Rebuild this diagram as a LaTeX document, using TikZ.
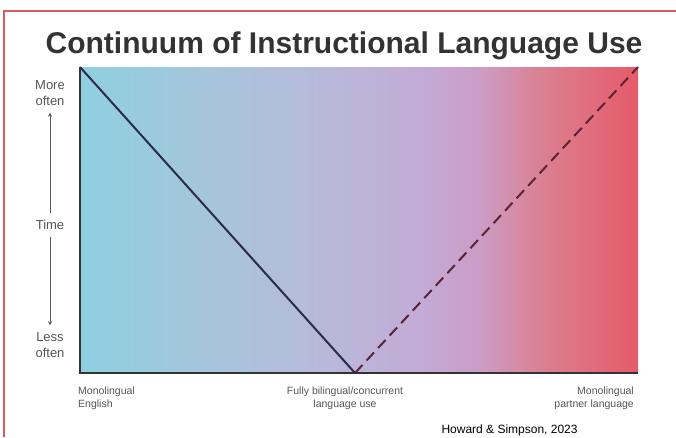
\documentclass[tikz,border=0pt]{standalone}
\usepackage{fontspec}
\setmainfont{Liberation Sans}
\definecolor{frame}{HTML}{D55A64}
\definecolor{ink}{HTML}{333333}
\definecolor{lab}{HTML}{555555}
\definecolor{solidln}{HTML}{2A2C48}
\definecolor{dashln}{HTML}{5A2434}
\definecolor{cA}{HTML}{8ED0E0}
\definecolor{cB}{HTML}{A8C4DC}
\definecolor{cC}{HTML}{B9B8DA}
\definecolor{cD}{HTML}{C3AAD6}
\definecolor{cE}{HTML}{CC9CC4}
\definecolor{cF}{HTML}{DA8294}
\definecolor{cG}{HTML}{E65A68}
\pgfdeclarehorizontalshading{continuum}{100bp}{color(0bp)=(cA); color(25bp)=(cA); color(37.5bp)=(cB); color(47.5bp)=(cC); color(56bp)=(cD); color(61bp)=(cE); color(66bp)=(cF); color(75bp)=(cG); color(100bp)=(cG)}
\begin{document}
\begin{tikzpicture}[>=stealth,x=1pt,y=-1pt]
	\useasboundingbox (0,0) rectangle (676,437);
	\tikzset{lbl/.style={text=lab,font=\fontsize{10.5}{13}\selectfont,inner sep=0pt},
		side/.style={text=lab,font=\fontsize{13}{16}\selectfont,align=center,inner sep=1pt}}
	\draw[frame,line width=2pt] (4,437)--(4,10.5)--(676,10.5); %frame
	\node[text=ink,font=\fontsize{30}{34}\selectfont\bfseries,anchor=base] (title) at (344,53) {Continuum of Instructional Language Use};
	\coordinate (tl) at (80,67);
	\coordinate (bl) at (80,373);
	\coordinate (br) at (638,373);
	\coordinate (tr) at (638,67);
	\coordinate (mid) at (355,373);
	\shade[shading=continuum] (tl) rectangle (br); %gradient
	\draw[ink,line width=2pt] (tl)--(bl)--(br); %axes
	\draw[solidln,line width=2pt] (tl)--(mid); %English
	\draw[dashln,line width=2pt,dash pattern=on 11pt off 6pt] (mid)--(tr); %partner
	\node[side] (more) at (50,93) {More\\often};
	\node[side] (time) at (50,225) {Time};
	\node[side] (less) at (50,345) {Less\\often};
	\draw[->,lab,thick,shorten >=6pt,shorten <=6pt] (time)--(more);
	\draw[->,lab,thick,shorten >=6pt,shorten <=6pt] (time)--(less);
	\node[lbl,align=left,anchor=north west] (eng) at (78,387) {Monolingual\\English};
	\node[lbl,align=center,anchor=north] (both) at (345,387) {Fully bilingual/concurrent\\language use};
	\node[lbl,align=right,anchor=north east] (part) at (634,387) {Monolingual\\partner language};
	\node[text=black,font=\fontsize{12}{14}\selectfont,anchor=base west] (cite) at (438,433) {Howard \& Simpson, 2023};
\end{tikzpicture}
\end{document}
